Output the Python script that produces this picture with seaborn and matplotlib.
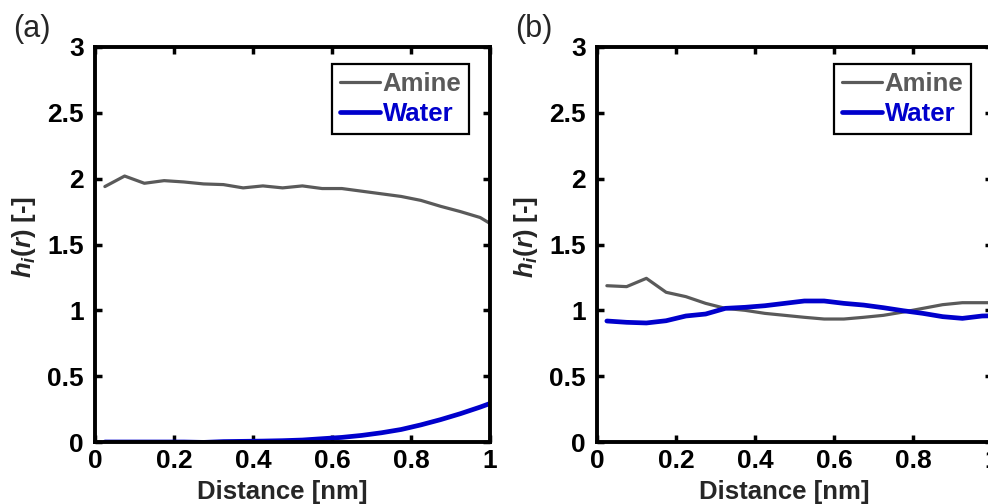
import numpy as np
import pandas as pd
import matplotlib
matplotlib.use("Agg")
import matplotlib.pyplot as plt
import seaborn as sns

# bin centres of the pair-distance histogram [nm]
distance = [0.025, 0.075, 0.125, 0.175, 0.225, 0.275, 0.325, 0.375, 0.425, 0.475,
            0.525, 0.575, 0.625, 0.675, 0.725, 0.775, 0.825, 0.875, 0.925, 0.975, 1.025]

# panel (a)
amine_a = [1.94, 2.02, 1.965, 1.985, 1.975, 1.96, 1.955, 1.93, 1.945, 1.93,
           1.945, 1.925, 1.925, 1.905, 1.885, 1.865, 1.835, 1.79, 1.75, 1.705, 1.615]
water_a = [0.0, 0.0, 0.0, 0.0, 0.0, -0.003, 0.003, 0.005, 0.007, 0.01,
           0.015, 0.025, 0.035, 0.05, 0.07, 0.095, 0.13, 0.17, 0.215, 0.265, 0.32]

# panel (b)
amine_b = [1.187, 1.18, 1.243, 1.137, 1.104, 1.053, 1.015, 1.0, 0.977, 0.962,
           0.947, 0.934, 0.934, 0.947, 0.962, 0.987, 1.015, 1.043, 1.058, 1.058, 1.058]
water_b = [0.919, 0.909, 0.904, 0.921, 0.957, 0.972, 1.015, 1.023, 1.035, 1.053,
           1.071, 1.071, 1.053, 1.04, 1.02, 0.997, 0.977, 0.952, 0.939, 0.957, 0.96]

x_ticks = [0, 0.2, 0.4, 0.6, 0.8, 1]
x_ticklabels = ["0", "0.2", "0.4", "0.6", "0.8", "1"]
y_ticks = [0, 0.5, 1, 1.5, 2, 2.5, 3]
y_ticklabels = ["0", "0.5", "1", "1.5", "2", "2.5", "3"]

GREY = "#5a5a5a"
BLUE = "#0000cc"

sns.set_theme(style="ticks")
plt.rcParams["font.family"] = ["Liberation Sans", "DejaVu Sans"]
plt.rcParams["mathtext.fontset"] = "custom"
plt.rcParams["mathtext.rm"] = "Liberation Sans:bold"
plt.rcParams["mathtext.it"] = "Liberation Sans:italic:bold"
plt.rcParams["mathtext.bf"] = "Liberation Sans:bold"

fig = plt.figure(figsize=(9.88, 5.04), dpi=100)
ax_a = fig.add_axes([95 / 988, 62 / 504, 395 / 988, 395 / 504])
ax_b = fig.add_axes([597 / 988, 62 / 504, 395 / 988, 395 / 504])


def draw_panel(ax, amine, water):
    df = pd.DataFrame({"x": distance, "Amine": amine, "Water": water})
    sns.lineplot(data=df, x="x", y="Amine", ax=ax, color=GREY, linewidth=2.3, label="Amine")
    sns.lineplot(data=df, x="x", y="Water", ax=ax, color=BLUE, linewidth=3.4, label="Water")

    ax.set_xlim(0, 1)
    ax.set_ylim(0, 3)
    ax.set_xticks(x_ticks)
    ax.set_xticklabels(x_ticklabels)
    ax.set_yticks(y_ticks)
    ax.set_yticklabels(y_ticklabels)
    ax.tick_params(direction="in", length=5, width=2.5, top=True, right=True,
                   labelsize=19, colors="black")
    ax.tick_params(axis="x", pad=5)
    ax.tick_params(axis="y", pad=8)
    for lbl in ax.get_xticklabels() + ax.get_yticklabels():
        lbl.set_fontweight("bold")
    for s in ax.spines.values():
        s.set_linewidth(2.8)
        s.set_color("black")
        s.set_visible(True)

    ax.set_xlabel("Distance [nm]", fontsize=18.5, fontweight="bold")
    ax.set_ylabel(r"$h_i(r)$ [-]", fontsize=18.5, fontweight="bold")
    ax.xaxis.set_label_coords(0.475, -0.095)
    ax.yaxis.set_label_coords(-0.145, 0.52)

    leg = ax.legend(loc="upper right", bbox_to_anchor=(0.947, 0.957), borderaxespad=0,
                    fancybox=False, framealpha=1, edgecolor="black",
                    prop={"weight": "bold", "size": 18.5},
                    handlelength=1.55, handletextpad=0.12, borderpad=0.3, labelspacing=0.25)
    leg.get_frame().set_linewidth(1.6)
    for txt, col in zip(leg.get_texts(), [GREY, BLUE]):
        txt.set_color(col)


draw_panel(ax_a, amine_a, water_a)
draw_panel(ax_b, amine_b, water_b)

fig.text(13 / 988, 1 - 29 / 504, "(a)", fontsize=22, va="center", ha="left")
fig.text(515 / 988, 1 - 29 / 504, "(b)", fontsize=22, va="center", ha="left")

fig.savefig("out.png", dpi=100)
